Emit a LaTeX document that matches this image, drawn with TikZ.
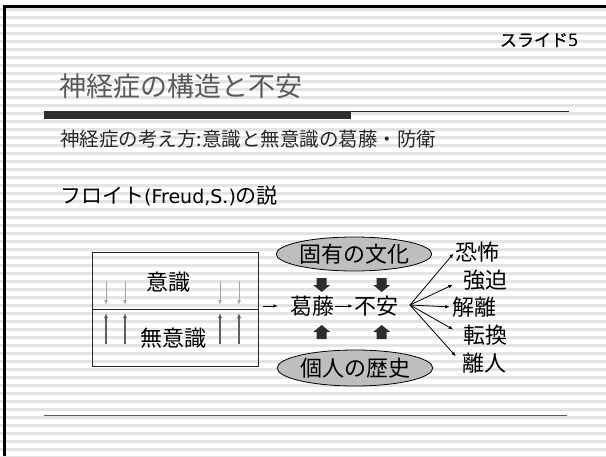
\documentclass[tikz,border=0pt]{standalone}
\usepackage{fontspec}
\setmainfont{Noto Sans CJK JP}
\newfontfamily\latinfont{DejaVu Sans}
\newfontfamily\heavycjk[FakeBold=0.8]{Noto Sans CJK JP}
\usetikzlibrary{arrows.meta,shapes.geometric}
\definecolor{stripe}{RGB}{228,228,228}
\definecolor{titlegray}{RGB}{90,90,90}
\definecolor{subgray}{RGB}{40,40,40}
\definecolor{bardark}{RGB}{45,45,45}
\definecolor{lightarr}{RGB}{165,165,165}
\definecolor{darkarr}{RGB}{95,95,95}
\definecolor{ellfill}{RGB}{190,190,190}
\tikzset{
  txt/.style={inner sep=0pt, text=black},
  dtxt/.style={txt, font=\fontsize{22}{22}\selectfont},
  arr/.style={-{Latex[length=4.5pt,width=3.6pt]}, line width=0.8pt, black},
  ell/.style={ellipse, draw=black, line width=0.8pt, fill=ellfill, inner sep=0pt, font=\fontsize{22}{22}\selectfont},
  blk/.style={fill=bardark},
  downblk/.pic={\fill[blk] (-5,-7) -- (5,-7) -- (5,0) -- (8.5,0) -- (0,7) -- (-8.5,0) -- (-5,0) -- cycle;},
  upblk/.pic={\fill[blk] (-5,7) -- (5,7) -- (5,0) -- (8.5,0) -- (0,-7) -- (-8.5,0) -- (-5,0) -- cycle;},
  smalldown/.style={-{Latex[length=5pt,width=4pt]}, line width=1pt, lightarr},
  smallup/.style={-{Latex[length=5pt,width=4pt]}, line width=1.2pt, darkarr}
}
\begin{document}
\begin{tikzpicture}[x=1pt,y=-1pt]
\useasboundingbox (0,0) rectangle (606,456);
\fill[white] (0,0) rectangle (606,456);
\foreach \k in {0,...,56} \fill[stripe] (0,{8+8*\k}) rectangle (606,{10.5+8*\k});
% frame
\fill[black] (3,5) rectangle (6,456);
\fill[black] (3,5) rectangle (606,8);
% header
\node[txt, anchor=east, font=\heavycjk\fontsize{17}{17}\selectfont] (slide) at (579,40) {スライド{\latinfont 5}};
\node[txt, anchor=west, text=titlegray, font=\fontsize{27}{27}\selectfont] (title) at (59,86) {神経症の構造と不安};
\fill[bardark] (44,110.7) rectangle (351,119.3);
\draw[line width=1pt, subgray] (351,111) -- (569,111);
\node[txt, anchor=west, text=subgray, font=\fontsize{19.5}{19.5}\selectfont] (sub) at (60,139) {神経症の考え方:意識と無意識の葛藤・防衛};
\node[txt, anchor=west, font=\fontsize{21}{21}\selectfont] (freud) at (60,196) {フロイト{\latinfont\fontsize{19}{19}\selectfont(Freud,S.)}の説};
% box
\node[draw=black!85, line width=0.9pt, minimum width=166pt, minimum height=114pt, inner sep=0pt] (box) at (175,309.5) {};
\draw[line width=0.9pt, black!85] (box.west) -- (box.east);
\node[dtxt] (ishiki) at (168,282) {意識};
\node[dtxt] (muishiki) at (173,338) {無意識};
\foreach \x in {106,125,220,239} {
  \draw[smalldown] (\x,281) -- (\x,305);
  \draw[smallup] (\x,344) -- (\x,313);
}
% center
\node[dtxt] (kat) at (312,306) {葛藤};
\node[dtxt] (fuan) at (376,306) {不安};
\draw[arr] ([xshift=5pt]box.east |- kat.west) -- ([xshift=-12pt]kat.west);
\draw[arr, shorten <=1pt, shorten >=1pt] (kat.east) -- (fuan.west);
\node[ell, minimum width=145pt, minimum height=34pt] (e1) at (354,254) {固有の文化};
\node[ell, minimum width=148pt, minimum height=36pt] (e2) at (355,368) {個人の歴史};
\pic at (321.7,285) {downblk};
\pic at (381.7,285) {downblk};
\pic at (321.7,332) {upblk};
\pic at (381.7,332) {upblk};
% fan
\coordinate (fan) at (410,305);
\node[dtxt] (t1) at (477,252) {恐怖};
\node[dtxt] (t2) at (485,280) {強迫};
\node[dtxt] (t3) at (474,307) {解離};
\node[dtxt] (t4) at (485,335) {転換};
\node[dtxt] (t5) at (484,363) {離人};
\draw[arr, shorten >=2pt] (fan) -- (t1.west);
\draw[arr, shorten >=11pt] (fan) -- (t2.west);
\draw[arr, shorten >=2pt] (fan) -- (t3.west);
\draw[arr, shorten >=11pt] (fan) -- (t4.west);
\draw[arr, shorten >=9pt] (fan) -- (t5.west);
% bottom rule
\draw[line width=1pt, black!65] (44,415) -- (567,415);
\end{tikzpicture}
\end{document}
